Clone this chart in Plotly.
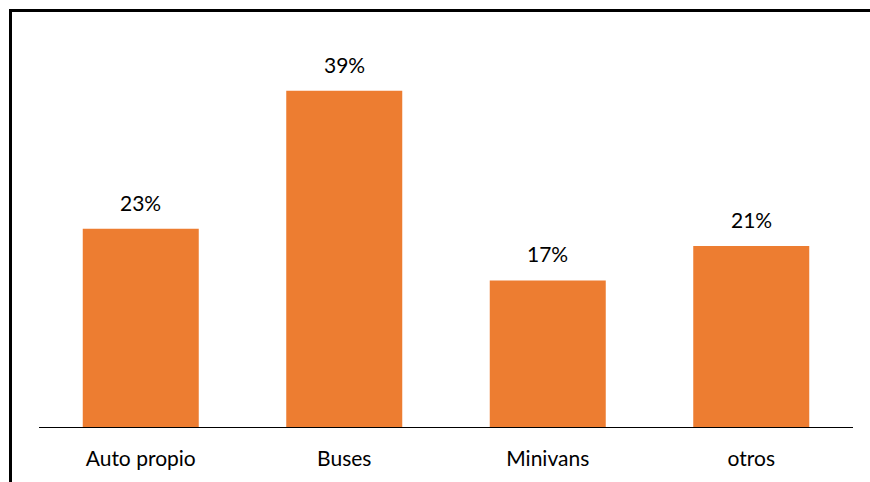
import plotly.graph_objects as go

categories = ["Auto propio", "Buses", "Minivans", "otros"]
values = [0.23, 0.39, 0.17, 0.21]
labels = ["23%", "39%", "17%", "21%"]

W, H = 870, 482
ml, mt = 39, 20
mr = W - 853
mb = H - 427
pw = W - ml - mr
ph = H - mt - mb

def px_x(p):
    return (p - ml) / pw

def px_y(p):
    return (H - mb - p) / ph

FONT = "Lato"
FS = 21

fig = go.Figure(go.Bar(
    x=categories, y=values, marker_color="#ED7D31", marker_line_width=0,
    hoverinfo="skip"))

for c, v, t in zip(categories, values, labels):
    fig.add_annotation(x=c, y=v, text=t, showarrow=False, yanchor="bottom",
                       yshift=12, font=dict(family=FONT, size=FS, color="#000000"))

# keep the right margin strip plain white
fig.add_shape(type="rect", xref="paper", yref="paper", layer="above",
              x0=px_x(855), x1=px_x(W + 10), y0=px_y(H + 10), y1=px_y(13),
              line=dict(width=0), fillcolor="white")

# outer frame: only its top and left edges fall inside the picture
frame = dict(color="#000000", width=3)
fig.add_shape(type="line", xref="paper", yref="paper",
              x0=px_x(9), x1=px_x(W + 5), y0=px_y(10.5), y1=px_y(10.5), line=frame)
fig.add_shape(type="line", xref="paper", yref="paper",
              x0=px_x(10.5), x1=px_x(10.5), y0=px_y(9), y1=px_y(H + 5), line=frame)

fig.update_layout(
    width=W, height=H,
    margin=dict(l=ml, r=mr, t=mt, b=mb, pad=0),
    paper_bgcolor="white", plot_bgcolor="white",
    bargap=0.43, showlegend=False,
    font=dict(family=FONT, size=FS, color="#000000"),
    xaxis=dict(showline=True, linecolor="#000000", linewidth=1,
               ticks="outside", ticklen=13, tickcolor="rgba(0,0,0,0)",
               tickfont=dict(family=FONT, size=FS, color="#000000"),
               showgrid=False, zeroline=False),
    yaxis=dict(range=[0, ph / 8.62 / 100], visible=False,
               showgrid=False, zeroline=False),
)

fig.write_html(
    "out.html",
    config={"displayModeBar": False},
    post_script="document.body.style.margin='0';document.body.style.overflow='hidden';",
)
